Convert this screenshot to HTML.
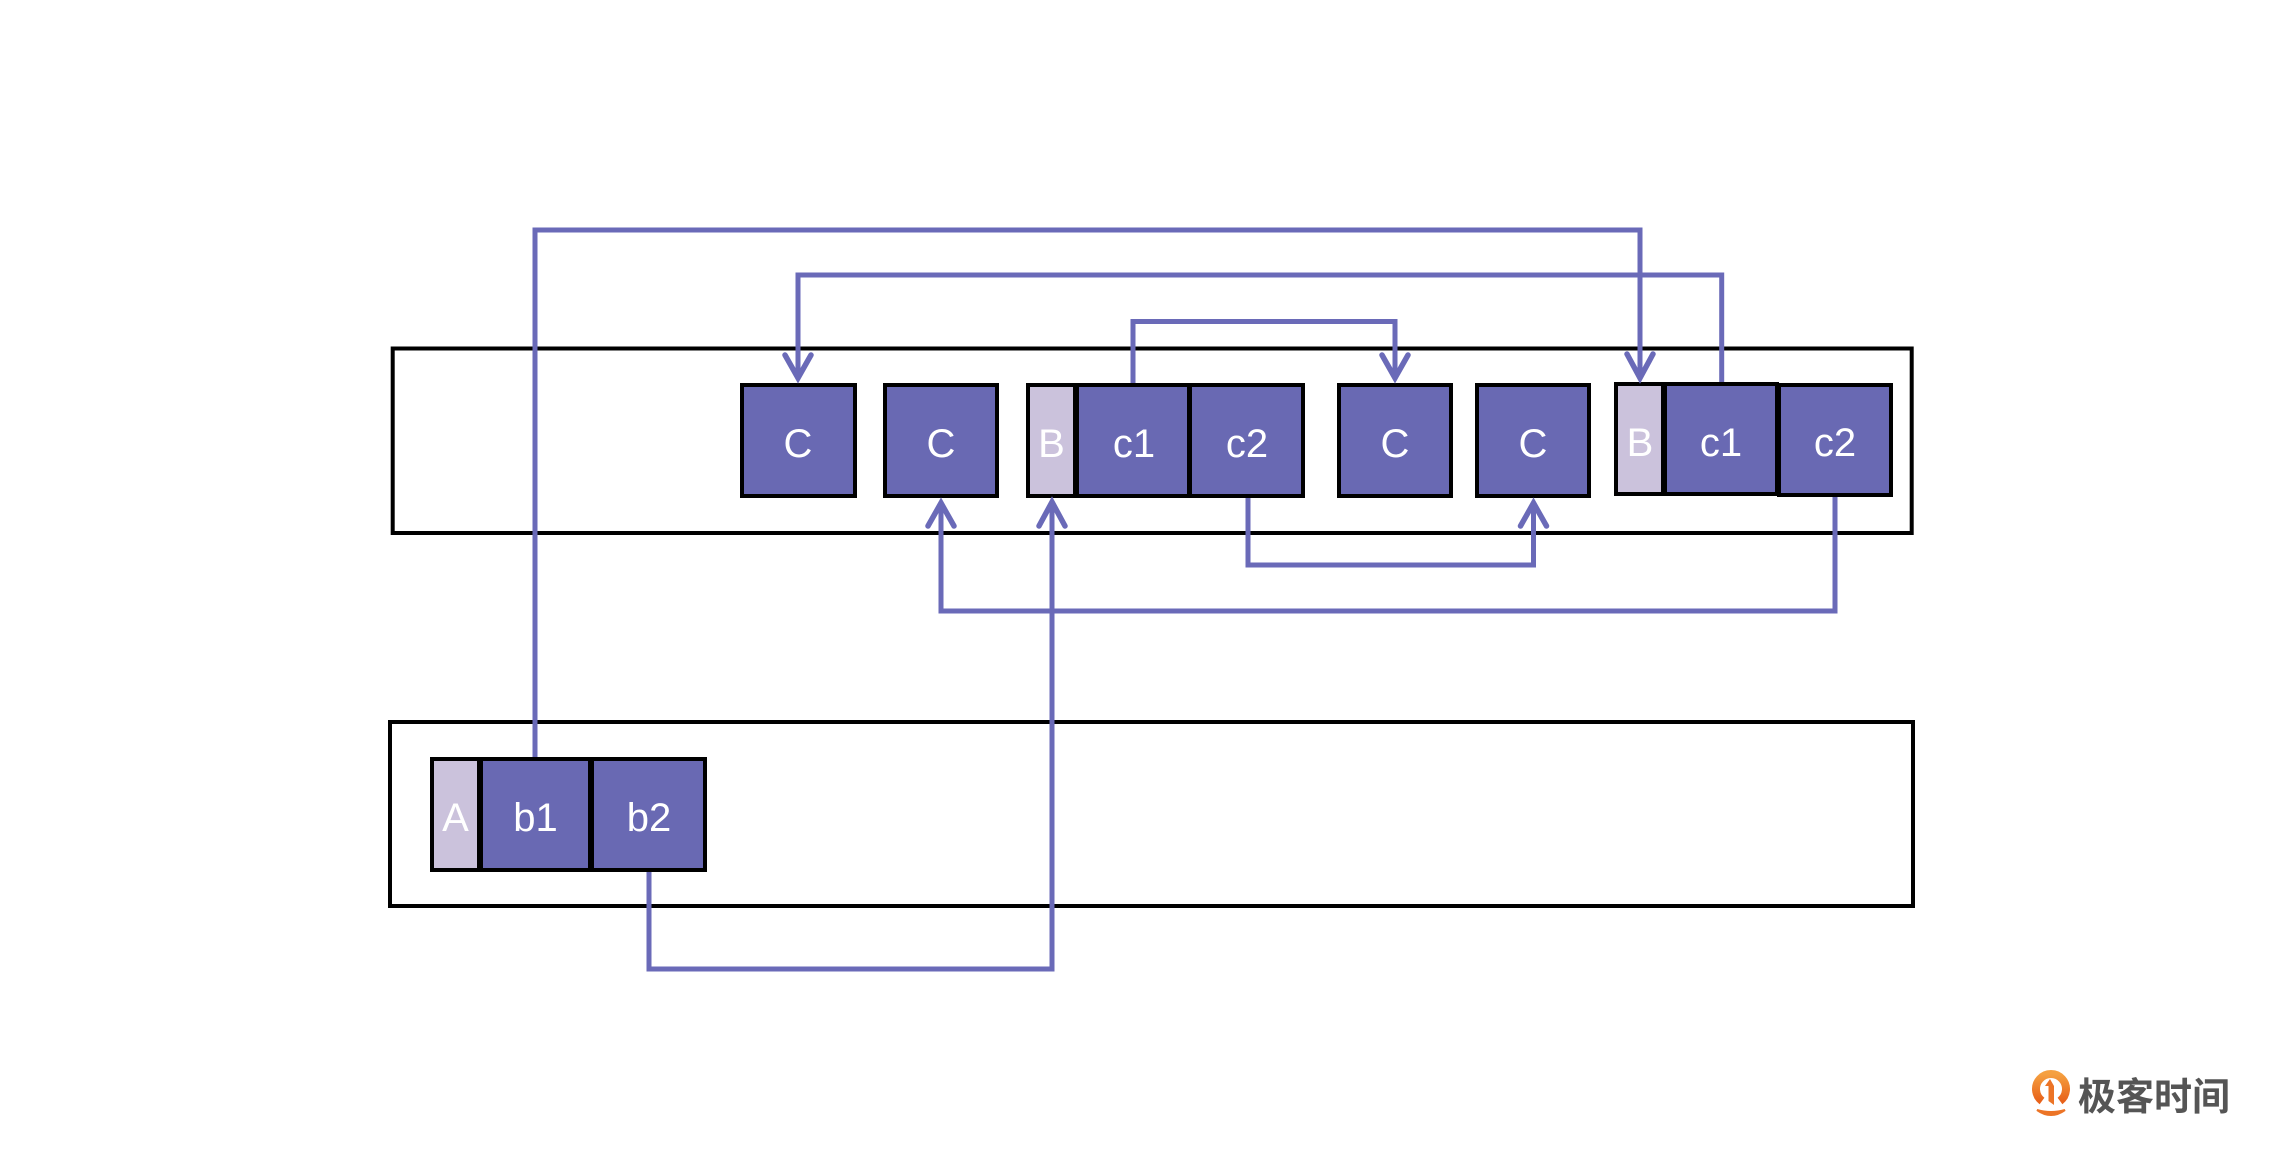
<!DOCTYPE html>
<html>
<head>
<meta charset="utf-8">
<style>
  html, body { margin: 0; padding: 0; background: #ffffff; }
  body { width: 2284px; height: 1173px; overflow: hidden; }
  svg { display: block; }
  .lbl { font-family: "Liberation Sans", sans-serif; font-size: 40px; fill: #ffffff; text-anchor: middle; }
</style>
</head>
<body>
<svg width="2284" height="1173" viewBox="0 0 2284 1173" xmlns="http://www.w3.org/2000/svg">
  <rect x="0" y="0" width="2284" height="1173" fill="#ffffff"/>

  <!-- outer containers -->
  <rect x="392.7" y="348.5" width="1519" height="184.5" fill="none" stroke="#000" stroke-width="4"/>
  <rect x="390" y="722" width="1523" height="184" fill="none" stroke="#000" stroke-width="4"/>

  <!-- top row boxes -->
  <g stroke="#000" stroke-width="4">
    <rect x="742" y="385" width="113" height="111" fill="#6969B3"/>
    <rect x="885" y="385" width="112" height="111" fill="#6969B3"/>
    <rect x="1028" y="385" width="47" height="111" fill="#CBC2DC"/>
    <rect x="1077" y="385" width="112" height="111" fill="#6969B3"/>
    <rect x="1190" y="385" width="113" height="111" fill="#6969B3"/>
    <rect x="1339" y="385" width="112" height="111" fill="#6969B3"/>
    <rect x="1477" y="385" width="112" height="111" fill="#6969B3"/>
    <rect x="1616" y="384" width="47" height="110" fill="#CBC2DC"/>
    <rect x="1665" y="384" width="112" height="110" fill="#6969B3"/>
    <rect x="1779" y="385" width="112" height="110" fill="#6969B3"/>
  </g>
  <!-- bottom row boxes -->
  <g stroke="#000" stroke-width="4">
    <rect x="432" y="759" width="47" height="111" fill="#CBC2DC"/>
    <rect x="481" y="759" width="109" height="111" fill="#6969B3"/>
    <rect x="592" y="759" width="113" height="111" fill="#6969B3"/>
  </g>

  <!-- labels -->
  <text class="lbl" x="798" y="457">C</text>
  <text class="lbl" x="941" y="457">C</text>
  <text class="lbl" x="1051.5" y="457">B</text>
  <text class="lbl" x="1134" y="457">c1</text>
  <text class="lbl" x="1247" y="457">c2</text>
  <text class="lbl" x="1395" y="457">C</text>
  <text class="lbl" x="1533" y="457">C</text>
  <text class="lbl" x="1640" y="456">B</text>
  <text class="lbl" x="1721" y="456">c1</text>
  <text class="lbl" x="1835" y="456">c2</text>
  <text class="lbl" x="455.5" y="831">A</text>
  <text class="lbl" x="535.5" y="831">b1</text>
  <text class="lbl" x="649" y="831">b2</text>

  <!-- connectors -->
  <g fill="none" stroke="#6A6AB8" stroke-width="5" stroke-linejoin="miter" stroke-linecap="butt">
    <path d="M535,757 V230 H1640 V378"/>
    <path d="M1721.7,382 V275 H798 V378"/>
    <path d="M1133,383 V321.5 H1395 V378"/>
    <path d="M1248,498 V565 H1533.5 V503"/>
    <path d="M1835,497 V611 H941 V503"/>
    <path d="M649,872 V969 H1052 V502"/>
  </g>
  <!-- arrowheads -->
  <g fill="none" stroke="#6A6AB8" stroke-width="5.5" stroke-linejoin="miter" stroke-miterlimit="10" stroke-linecap="round">
    <polyline points="1627,354 1640,378 1653,354"/>
    <polyline points="785,355 798,378 811,355"/>
    <polyline points="1382,355 1395,378 1408,355"/>
    <polyline points="1520.5,526 1533.5,503 1546.5,526"/>
    <polyline points="928,526 941,503 954,526"/>
    <polyline points="1039,526 1052,502 1065,526"/>
  </g>

  <!-- logo -->
  <defs>
    <linearGradient id="og" x1="0" y1="0" x2="0" y2="1">
      <stop offset="0" stop-color="#F5A040"/>
      <stop offset="1" stop-color="#E8621A"/>
    </linearGradient>
  </defs>
  <g>
    <path d="M2042,1101 A15,15 0 1 1 2060,1101" fill="none" stroke="url(#og)" stroke-width="8"/>
    <path d="M2050,1079 L2045,1086 L2048.5,1086 L2048.5,1101 L2054,1105 L2054,1086 Z" fill="#EC7426"/>
    <path d="M2037,1110 Q2051,1120 2065,1110 Q2051,1114 2037,1110 Z" fill="#EC7426" stroke="#EC7426" stroke-width="2"/>
  </g>
  <text x="2078" y="1110" font-family="'Liberation Sans', 'Noto Sans CJK SC', sans-serif" font-size="38" font-weight="bold" fill="#555555">极客时间</text>
</svg>
</body>
</html>
